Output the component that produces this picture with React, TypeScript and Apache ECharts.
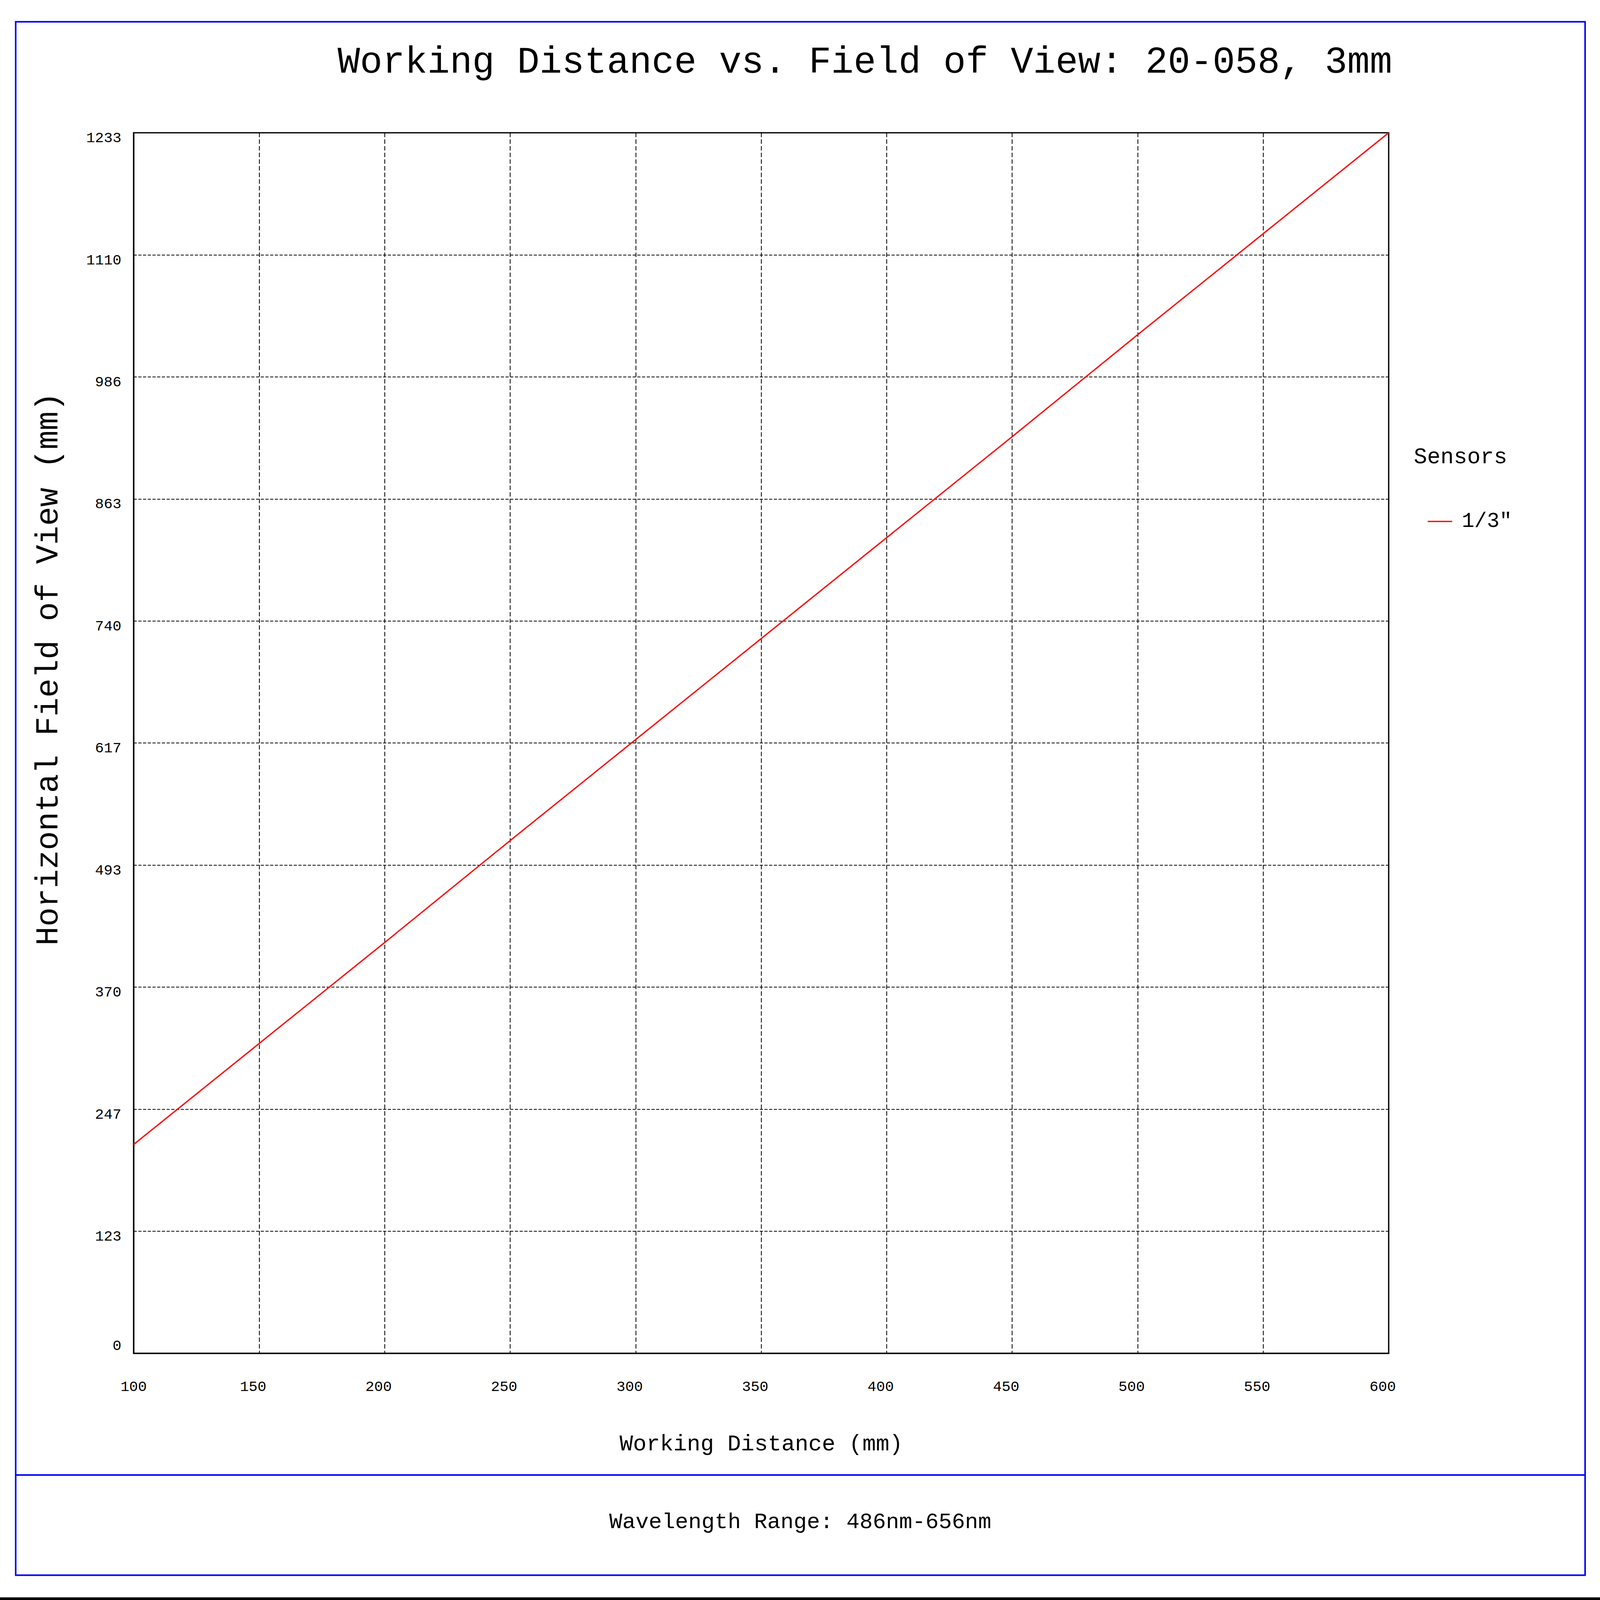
import React, { useEffect, useRef } from "react";
import * as echarts from "echarts";

const chartTitle = "Working Distance vs. Field of View: 20-058, 3mm";
const xAxisTitle = "Working Distance (mm)";
const yAxisTitle = "Horizontal Field of View (mm)";
const footerText = "Wavelength Range: 486nm-656nm";
const legendTitle = "Sensors";
const seriesName = '1/3"';

const workingDistance = [100, 150, 200, 250, 300, 350, 400, 450, 500, 550, 600];
const hfovValues = [211, 313, 415, 518, 620, 722, 824, 926, 1029, 1131, 1233];
const yTickLabels = ["0", "123", "247", "370", "493", "617", "740", "863", "986", "1110", "1233"];
const xMin = 100;
const xMax = 600;
const xInterval = 50;
const yMax = 1233;
const yInterval = 123.3;

const FONT = "'Liberation Mono', 'Courier New', monospace";
const REF_W = 6118;
const REF_H = 4327;

export default function App() {
  const ref = useRef<HTMLDivElement>(null);
  useEffect(() => {
    if (!ref.current) return;
    document.body.style.margin = "0";
    document.body.style.overflow = "hidden";
    const W = window.innerWidth || REF_W;
    const H = window.innerHeight || REF_H;
    ref.current.style.width = W + "px";
    ref.current.style.height = H + "px";
    const sx = W / REF_W;
    const sy = H / REF_H;
    const fs = Math.min(sx, sy);
    const X = (v: number) => v * sx;
    const Y = (v: number) => v * sy;
    const F = (v: number) => v * fs;

    const chart = echarts.init(ref.current, null, { renderer: "svg", width: W, height: H });
    const xLabelSize = F(56);
    const xNameSize = F(86);
    const legendSize = F(80);
    const yShift = Y(15);
    const option: any = {
      animation: false,
      backgroundColor: "#ffffff",
      grid: {
        left: X(511),
        top: Y(359),
        width: X(4799),
        height: Y(3301),
        show: true,
        borderColor: "#000",
        borderWidth: Math.max(1, F(5)),
        containLabel: false,
      },
      legend: {
        left: X(5459),
        top: Y(1410) - legendSize / 2,
        padding: 0,
        icon: "rect",
        itemWidth: X(94),
        itemHeight: Math.max(2, F(5)),
        data: [seriesName],
        itemStyle: { color: "#ff0000", borderWidth: 0 },
        textStyle: {
          fontFamily: FONT,
          fontSize: legendSize,
          lineHeight: legendSize,
          color: "#000",
          padding: [0, 0, 0, X(29)],
        },
      },
      xAxis: {
        type: "value",
        min: xMin,
        max: xMax,
        interval: xInterval,
        name: xAxisTitle,
        nameLocation: "middle",
        nameGap: Y(3906) - xNameSize / 2 - Y(3660),
        nameTextStyle: { fontFamily: FONT, fontSize: xNameSize, color: "#000" },
        axisLine: { show: true, onZero: false, lineStyle: { color: "#000", width: Math.max(1, F(5)) } },
        axisTick: { show: false },
        axisLabel: {
          fontFamily: FONT,
          fontSize: xLabelSize,
          color: "#000",
          margin: Y(3752) - xLabelSize / 2 - Y(3660),
          formatter: (v: number) => (v === xMin ? `{first|${v}}` : `{n|${v}}`),
          rich: {
            first: {
              fontFamily: FONT,
              fontSize: xLabelSize,
              color: "#000",
              padding: [0, 0, Y(16), 0],
            },
            n: {
              fontFamily: FONT,
              fontSize: xLabelSize,
              color: "#000",
              padding: [0, X(46), 0, 0],
            },
          },
        },
        splitLine: {
          show: true,
          lineStyle: { color: "#000", width: Math.max(1, F(3)), type: [Y(12), Y(6)] },
        },
      },
      yAxis: {
        type: "value",
        min: 0,
        max: yMax,
        interval: yInterval,
        axisLine: { show: true, onZero: false, lineStyle: { color: "#000", width: Math.max(1, F(5)) } },
        axisTick: { show: false },
        axisLabel: {
          fontFamily: FONT,
          fontSize: F(56),
          color: "#000",
          margin: X(47),
          formatter: (v: number) => {
            const idx = Math.round(v / yInterval);
            return idx === 0 ? `{zero|${yTickLabels[idx]}}` : `{n|${yTickLabels[idx] ?? ""}}`;
          },
          rich: {
            zero: {
              fontFamily: FONT,
              fontSize: F(56),
              color: "#000",
              padding: [0, 0, Y(40), 0],
            },
            n: {
              fontFamily: FONT,
              fontSize: F(56),
              color: "#000",
              padding: [2 * yShift, 0, 0, 0],
            },
          },
        },
        splitLine: {
          show: true,
          lineStyle: { color: "#000", width: Math.max(1, F(3)), type: [X(12), X(6)] },
        },
      },
      series: [
        {
          name: seriesName,
          type: "line",
          symbol: "none",
          data: workingDistance.map((x, i) => [x, hfovValues[i]]),
          lineStyle: { color: "#ff0000", width: Math.max(1, F(5)) },
          itemStyle: { color: "#ff0000" },
        },
      ],
      graphic: [
        {
          type: "rect",
          shape: { x: X(60), y: Y(59), width: X(6001), height: Y(4201) },
          style: { fill: "none", stroke: "#0000ff", lineWidth: Math.max(1, F(6)) },
          silent: true,
        },
        {
          type: "line",
          shape: { x1: X(60), y1: Y(3989), x2: X(6061), y2: Y(3989) },
          style: { stroke: "#0000ff", lineWidth: Math.max(1, F(6)) },
          silent: true,
        },
        {
          type: "rect",
          shape: { x: 0, y: Y(4320), width: W, height: H - Y(4320) },
          style: { fill: "#000" },
          silent: true,
        },
        {
          type: "text",
          x: X(3307),
          y: Y(170),
          style: {
            text: chartTitle,
            font: `${sx * 143}px ${FONT}`,
            fill: "#000",
            align: "center",
            verticalAlign: "middle",
          },
        },
        {
          type: "text",
          x: X(187),
          y: Y(1809),
          rotation: Math.PI / 2,
          style: {
            text: yAxisTitle,
            font: `${sy * 86}px ${FONT}`,
            fill: "#000",
            align: "center",
            verticalAlign: "middle",
          },
        },
        {
          type: "text",
          x: X(5406),
          y: Y(1237),
          style: {
            text: legendTitle,
            font: `${F(85)}px ${FONT}`,
            fill: "#000",
            align: "left",
            verticalAlign: "middle",
          },
        },
        {
          type: "text",
          x: X(3060),
          y: Y(4117),
          style: {
            text: footerText,
            font: `${sx * 84}px ${FONT}`,
            fill: "#000",
            align: "center",
            verticalAlign: "middle",
          },
        },
      ],
    };
    chart.setOption(option);
    return () => chart.dispose();
  }, []);
  return <div ref={ref} style={{ width: REF_W, height: REF_H, background: "#fff" }} />;
}
